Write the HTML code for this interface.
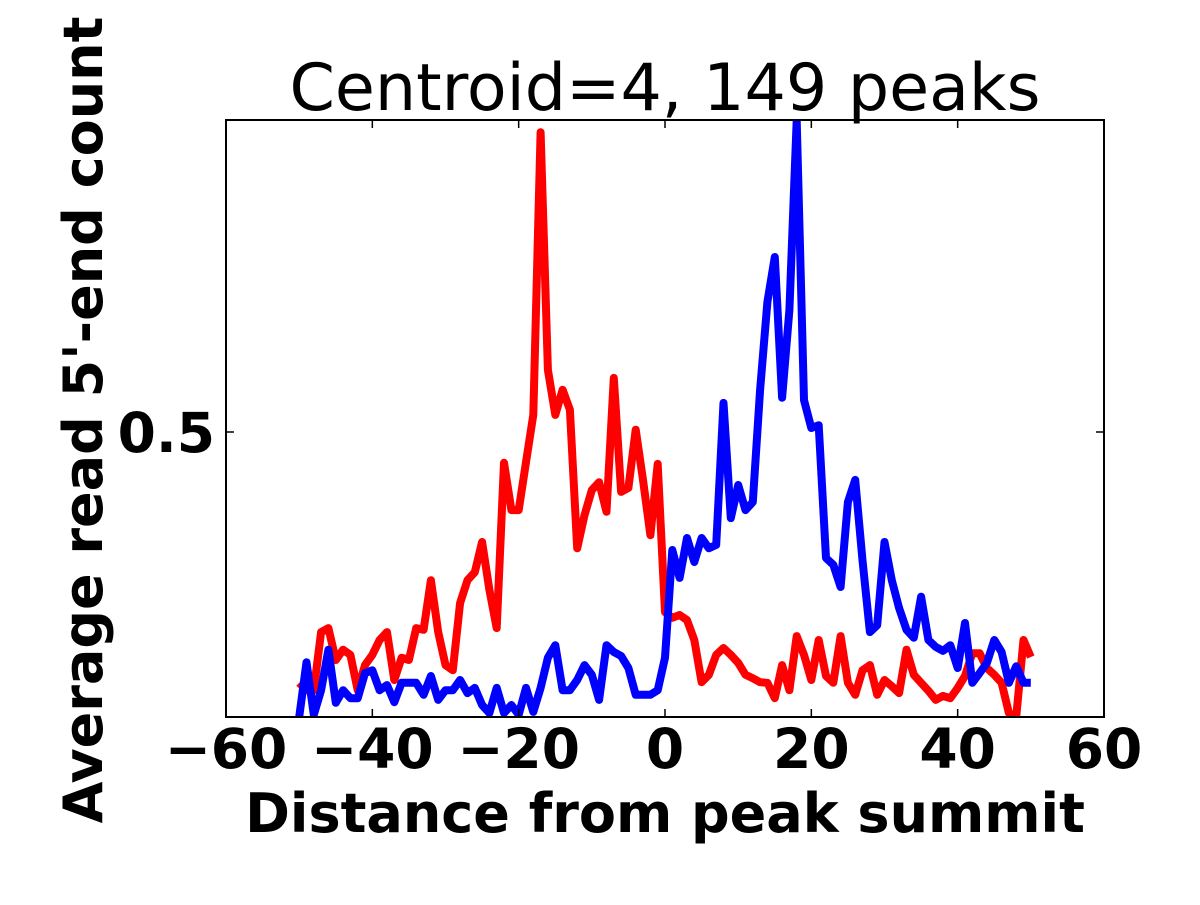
<!DOCTYPE html>
<html><head><meta charset="utf-8"><style>
html,body{margin:0;padding:0;background:#fff;}
svg text{font-family:"DejaVu Sans","Liberation Sans",sans-serif;}
</style></head><body>
<svg id="chart" width="1200" height="900" viewBox="0 0 1200 900" xmlns="http://www.w3.org/2000/svg">
<defs><clipPath id="clip"><rect x="226" y="120" width="878" height="597"/></clipPath></defs>
<rect x="0" y="0" width="1200" height="900" fill="#fff"/>
<text x="665" y="110" font-size="65" text-anchor="middle">Centroid=4, 149 peaks</text>
<g id="series" clip-path="url(#clip)"></g>
<rect x="226" y="120" width="878" height="597" fill="none" stroke="#000" stroke-width="2"/>
<g id="axes"></g>
<text x="665" y="832" font-size="54" font-weight="bold" text-anchor="middle">Distance from peak summit</text>
<text x="0" y="0" transform="translate(102,420) rotate(-90)" font-size="54" font-weight="bold" text-anchor="middle">Average read 5'-end count</text>
</svg>
<script>
const xTicks = [-60, -40, -20, 0, 20, 40, 60];
const xTickLabels = ["\u221260", "\u221240", "\u221220", "0", "20", "40", "60"];
const yTicks = [0.5];
const yTickLabels = ["0.5"];
const positions = [-50,-49,-48,-47,-46,-45,-44,-43,-42,-41,-40,-39,-38,-37,-36,-35,-34,-33,-32,-31,-30,-29,-28,-27,-26,-25,-24,-23,-22,-21,-20,-19,-18,-17,-16,-15,-14,-13,-12,-11,-10,-9,-8,-7,-6,-5,-4,-3,-2,-1,0,1,2,3,4,5,6,7,8,9,10,11,12,13,14,15,16,17,18,19,20,21,22,23,24,25,26,27,28,29,30,31,32,33,34,35,36,37,38,39,40,41,42,43,44,45,46,47,48,49,50];
const redPx = [683,690,690,632,628,660,650,655,690,665,655,640,632,680,658,660,628,630,580,632,665,670,603,580,572,542,590,628,463,510,510,462,415,132,370,415,390,410,548,515,490,482,512,378,492,488,430,480,535,464,612,618,615,620,640,682,675,655,648,655,663,675,678,682,683,698,665,690,636,655,680,640,676,683,636,683,695,670,665,695,680,686,693,650,675,683,691,700,696,698,688,676,653,653,668,675,683,713,717,640,657];
const bluePx = [717,662,715,690,650,703,690,698,698,673,670,690,685,702,683,683,683,695,676,700,690,690,680,693,688,705,713,688,713,705,715,688,712,688,658,645,690,690,680,665,675,700,645,652,656,668,695,695,695,690,658,550,578,538,562,538,548,545,403,518,485,510,502,390,302,257,398,310,120,400,428,425,558,565,587,502,480,560,632,625,542,580,608,630,638,597,640,647,651,645,668,623,683,673,663,640,652,683,666,683,683];
const reverseStrand = redPx.map(p => +((717 - p) / 570).toFixed(3));
const forwardStrand = bluePx.map(p => +((717 - p) / 570).toFixed(3));

const X0 = 226, X1 = 1104, Y0 = 717, Y1 = 120;
const xMin = -60, xMax = 60, yMin = 0, yMax = 597/570;
function xs(v){ return X0 + (v - xMin) / (xMax - xMin) * (X1 - X0); }
function ys(v){ return Y0 - (v - yMin) / (yMax - yMin) * (Y0 - Y1); }
const NS = "http://www.w3.org/2000/svg";
const axes = document.getElementById('axes');
const series = document.getElementById('series');

function drawLine(vals, color, name){
  const d = vals.map((v,i)=> (i?'L':'M') + xs(positions[i]).toFixed(1) + ' ' + ys(v).toFixed(1)).join(' ');
  const p = document.createElementNS(NS,'path');
  p.setAttribute('d', d);
  p.setAttribute('fill','none');
  p.setAttribute('stroke', color);
  p.setAttribute('stroke-width','8');
  p.setAttribute('stroke-linejoin','round');
  
  
  series.appendChild(p);
}
drawLine(reverseStrand, '#ff0000', 'reverse-strand-line');
drawLine(forwardStrand, '#0000ff', 'forward-strand-line');

xTicks.forEach((t,i)=>{
  const x = xs(t);
  [[Y0, Y0-8],[Y1, Y1+8]].forEach(([a,b])=>{
    const l = document.createElementNS(NS,'line');
    l.setAttribute('x1',x); l.setAttribute('x2',x); l.setAttribute('y1',a); l.setAttribute('y2',b);
    l.setAttribute('stroke','#000'); l.setAttribute('stroke-width','1.5');
    
    
    axes.appendChild(l);
  });
  const tx = document.createElementNS(NS,'text');
  tx.setAttribute('x', x); tx.setAttribute('y', 768);
  tx.setAttribute('font-size','55'); tx.setAttribute('font-weight','bold'); tx.setAttribute('text-anchor','middle');
  tx.textContent = xTickLabels[i];
  
  
  axes.appendChild(tx);
});
yTicks.forEach((t,i)=>{
  const y = ys(t);
  [[X0, X0+8],[X1, X1-8]].forEach(([a,b])=>{
    const l = document.createElementNS(NS,'line');
    l.setAttribute('x1',a); l.setAttribute('x2',b); l.setAttribute('y1',y); l.setAttribute('y2',y);
    l.setAttribute('stroke','#000'); l.setAttribute('stroke-width','1.5');
    
    
    axes.appendChild(l);
  });
  const tx = document.createElementNS(NS,'text');
  tx.setAttribute('x', 215); tx.setAttribute('y', y + 20);
  tx.setAttribute('font-size','55'); tx.setAttribute('font-weight','bold'); tx.setAttribute('text-anchor','end');
  tx.textContent = yTickLabels[i];
  
  
  axes.appendChild(tx);
});
</script>
</body></html>
